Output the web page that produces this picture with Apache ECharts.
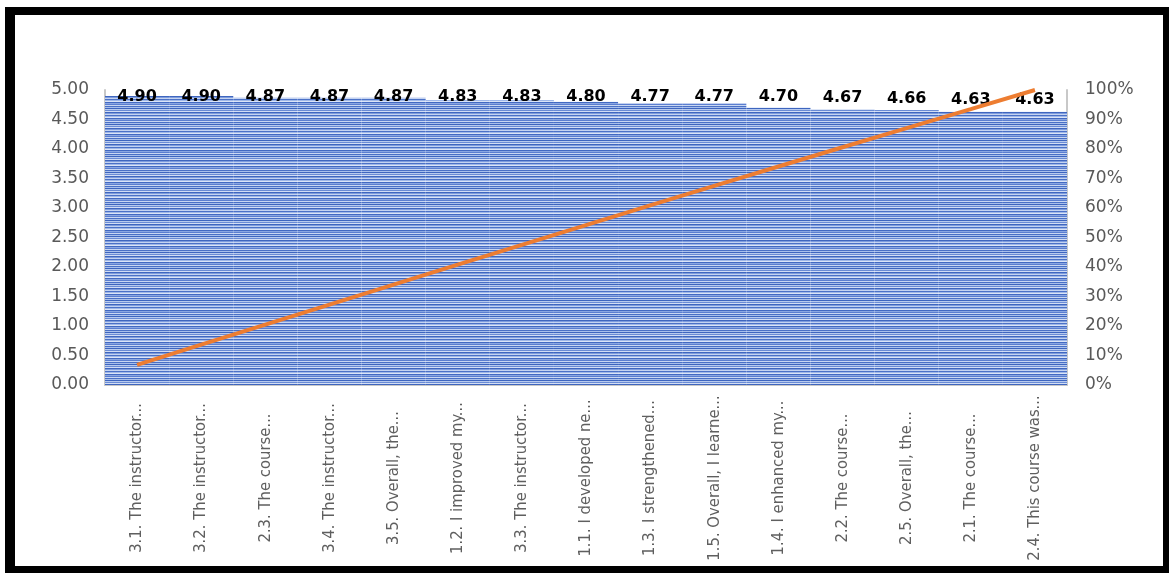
<!DOCTYPE html>
<html>
<head>
<meta charset="utf-8">
<script src="https://cdn.jsdelivr.net/npm/echarts@6/dist/echarts.min.js"></script>
<style>
  html, body { margin: 0; padding: 0; background: #fff; width: 1169px; height: 573px; overflow: hidden; }
  #frame { position: absolute; left: 5px; top: 7px; right: 0; bottom: 0; border-style: solid; border-color: #000; border-width: 8px 6px 7px 10px; box-sizing: border-box; }
  #chart { position: absolute; left: 0; top: 0; width: 1169px; height: 573px; }
</style>
</head>
<body>
<div id="frame"></div>
<div id="chart"></div>
<script>
// Survey items, sorted by mean score
const categories = [
  '3.1. The instructor...', '3.2. The instructor...', '2.3. The course...',
  '3.4. The instructor...', '3.5. Overall, the...', '1.2. I improved my...',
  '3.3. The instructor...', '1.1. I developed ne...', '1.3. I strengthened...',
  '1.5. Overall, I learne...', '1.4. I enhanced my...', '2.2. The course...',
  '2.5. Overall, the...', '2.1. The course...', '2.4. This course was...'
];
// Mean score per item
const meanScores = [4.90, 4.90, 4.87, 4.87, 4.87, 4.83, 4.83, 4.80, 4.77, 4.77, 4.70, 4.67, 4.66, 4.63, 4.63];
// Cumulative share (%)
const cumulativePct = [6.83, 13.67, 20.46, 27.25, 34.04, 40.78, 47.52, 54.21, 60.87, 67.52, 74.07, 80.59, 87.09, 93.54, 100];
// Axis ticks
const leftTicks = { min: 0, max: 5, step: 0.5 };
const rightTicks = { min: 0, max: 100, step: 10 };

// Horizontal striped fill for the bars
function stripePattern() {
  const rows = ['#3f66bf', '#7f9ddd', '#c4d3f1', '#4b71c7', '#9fb7e8', '#dbe4f7',
                '#4269c2', '#8aa6e1', '#5b7ed0', '#c9d7f2', '#4a70c6', '#a8bfeb',
                '#3e65bf', '#b7caee', '#6a8bd5', '#d2ddf4'];
  const c = document.createElement('canvas');
  c.width = 4; c.height = rows.length;
  const ctx = c.getContext('2d');
  rows.forEach((col, i) => { ctx.fillStyle = col; ctx.fillRect(0, i, 4, 1); });
  return c;
}

const gridTop = 90, gridHeight = 295;
const pxPerUnit = gridHeight / (leftTicks.max - leftTicks.min);

const chart = echarts.init(document.getElementById('chart'), null, { renderer: 'canvas' });
chart.setOption({
  animation: false,
  backgroundColor: 'transparent',
  grid: { left: 105, right: 102, top: gridTop, height: gridHeight },
  xAxis: {
    type: 'category',
    data: categories,
    axisTick: { show: false },
    axisLine: { lineStyle: { color: '#c8c8c8', width: 2 } },
    axisLabel: {
      interval: 0, rotate: 90, align: 'center', verticalAlign: 'middle', margin: 93,
      fontFamily: '"Liberation Sans Narrow", "DejaVu Sans Condensed", sans-serif',
      fontSize: 16.5, color: '#5f5f5f'
    }
  },
  yAxis: [
    {
      type: 'value', min: leftTicks.min, max: leftTicks.max, interval: leftTicks.step,
      splitLine: { show: false },
      axisLine: { show: true, lineStyle: { color: '#c8c8c8', width: 2 } },
      axisTick: { show: false },
      axisLabel: { margin: 16, fontFamily: '"DejaVu Sans", sans-serif', fontSize: 17, color: '#595959',
                   formatter: v => v.toFixed(2) }
    },
    {
      type: 'value', min: rightTicks.min, max: rightTicks.max, interval: rightTicks.step,
      splitLine: { show: false },
      axisLine: { show: true, lineStyle: { color: '#c8c8c8', width: 2 } },
      axisTick: { show: false },
      axisLabel: { margin: 18, fontFamily: '"DejaVu Sans", sans-serif', fontSize: 17, color: '#595959',
                   formatter: '{value}%' }
    }
  ],
  series: [
    {
      type: 'bar',
      yAxisIndex: 0,
      barCategoryGap: 0,
      data: meanScores.map(v => ({
        value: v,
        label: { distance: Math.min(3.5, (leftTicks.max - v) * pxPerUnit - 14.5) }
      })),
      itemStyle: { color: { image: stripePattern(), repeat: 'repeat' } },
      label: {
        show: true, position: 'top',
        fontFamily: '"DejaVu Sans", sans-serif', fontWeight: 'bold', fontSize: 16, color: '#000',
        formatter: p => p.value.toFixed(2)
      },
      z: 2
    },
    {
      type: 'line',
      yAxisIndex: 1,
      data: cumulativePct,
      symbol: 'none',
      lineStyle: { color: '#ED7D31', width: 4 },
      z: 5
    }
  ]
});
</script>
</body>
</html>
